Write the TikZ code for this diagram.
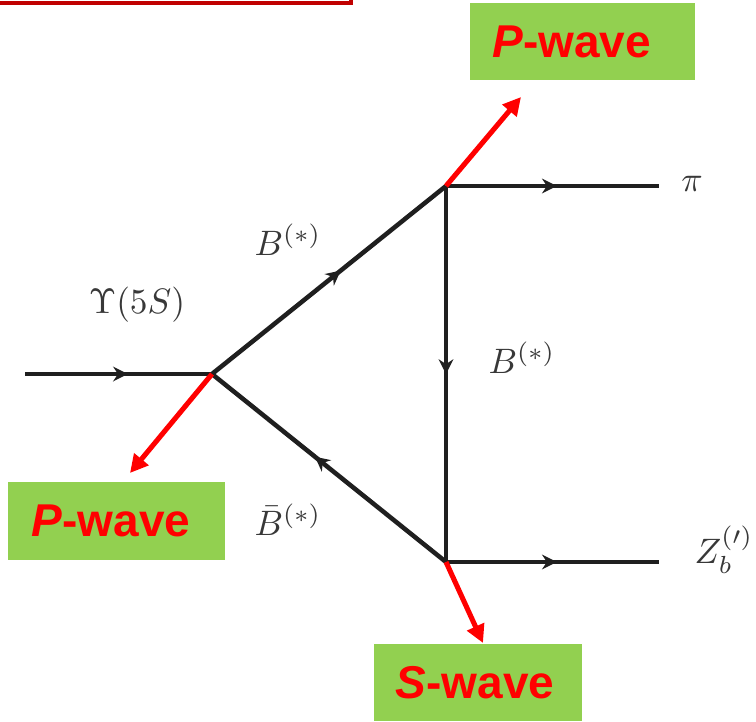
\documentclass[tikz,border=0pt]{standalone}
\usepackage{amsmath}
\usepackage{fontspec}
\newfontfamily\wavefont{Liberation Sans}
\usetikzlibrary{arrows.meta, decorations.markings}
\definecolor{wavegreen}{HTML}{92D050}
\definecolor{framered}{HTML}{C00000}
\tikzset{
  line/.style={line width=3.4pt, black!88, postaction={decorate},
    decoration={markings, mark=at position #1 with {\arrow{Stealth[length=11pt,width=11pt]}}}},
  line/.default=0.5,
  redarrow/.style={line width=3.8pt, red, -{Triangle[length=13.5pt,width=13.5pt]}},
  wavebox/.style={fill=wavegreen, text=red, inner sep=0pt, font=\wavefont\bfseries\fontsize{34.5}{40}\selectfont},
  lbl/.style={scale=2.65, black!78}
}
\begin{document}
\begin{tikzpicture}[x=0.75pt,y=-0.75pt]
         \useasboundingbox (0,0) rectangle (756,721);
         % Frame at the top
         \coordinate (frameA) at (-5,3);
         \coordinate (frameB) at (351,3);
         \coordinate (frameC) at (351,-5);
         \draw[line width=3.2pt, framered, line join=miter] (frameA) -- (frameB) -- (frameC);
         % Vertices
         \coordinate (in) at (25,374);
         \coordinate (left) at (212,374);
         \coordinate (top) at (446,186);
         \coordinate (bot) at (446,562);
         \coordinate (piend) at (659,186);
         \coordinate (zend) at (659,562);
         % Lines
         \draw[line=0.55] (in) -- (left);
         \draw[line=0.55] (left) -- (top);
         \draw[line=0.5] (top) -- (bot);
         \draw[line=0.56] (bot) -- (left);
         \draw[line=0.52] (top) -- (piend);
         \draw[line=0.52] (bot) -- (zend);
         % Labels
         \node[lbl] (ups) at (137,305) {$\Upsilon(5S)$};
         \node[lbl] (b1) at (288,240) {$B^{(*)}$};
         \node[lbl] (b2) at (522,358) {$B^{(*)}$};
         \node[lbl] (b3) at (288,520) {$\bar{B}^{(*)}$};
         \node[lbl] (pi) at (692,184) {$\pi$};
         \node[lbl] (zb) at (724,550) {$Z_b^{(\prime)}$};
         % Boxes
         \node[wavebox, minimum width=168.75pt, minimum height=57.75pt] (ptop) at (582.5,41.5) {\textit{P}-wave\rule{16pt}{0pt}};
         \node[wavebox, minimum width=162.75pt, minimum height=58.5pt] (pleft) at (116.5,521) {\textit{P}-wave\rule{8pt}{0pt}};
         \node[wavebox, minimum width=156pt, minimum height=57.75pt] (swave) at (478,682.5) {\textit{S}-wave\rule{4.5pt}{0pt}};
         % Red arrows
         \coordinate (ptip) at (521,97);
         \coordinate (ltip) at (130,473);
         \coordinate (stip) at (483,643);
         \draw[redarrow] (top) -- (ptip);
         \draw[redarrow] (left) -- (ltip);
         \draw[redarrow] (bot) -- (stip);
\end{tikzpicture}
\end{document}
